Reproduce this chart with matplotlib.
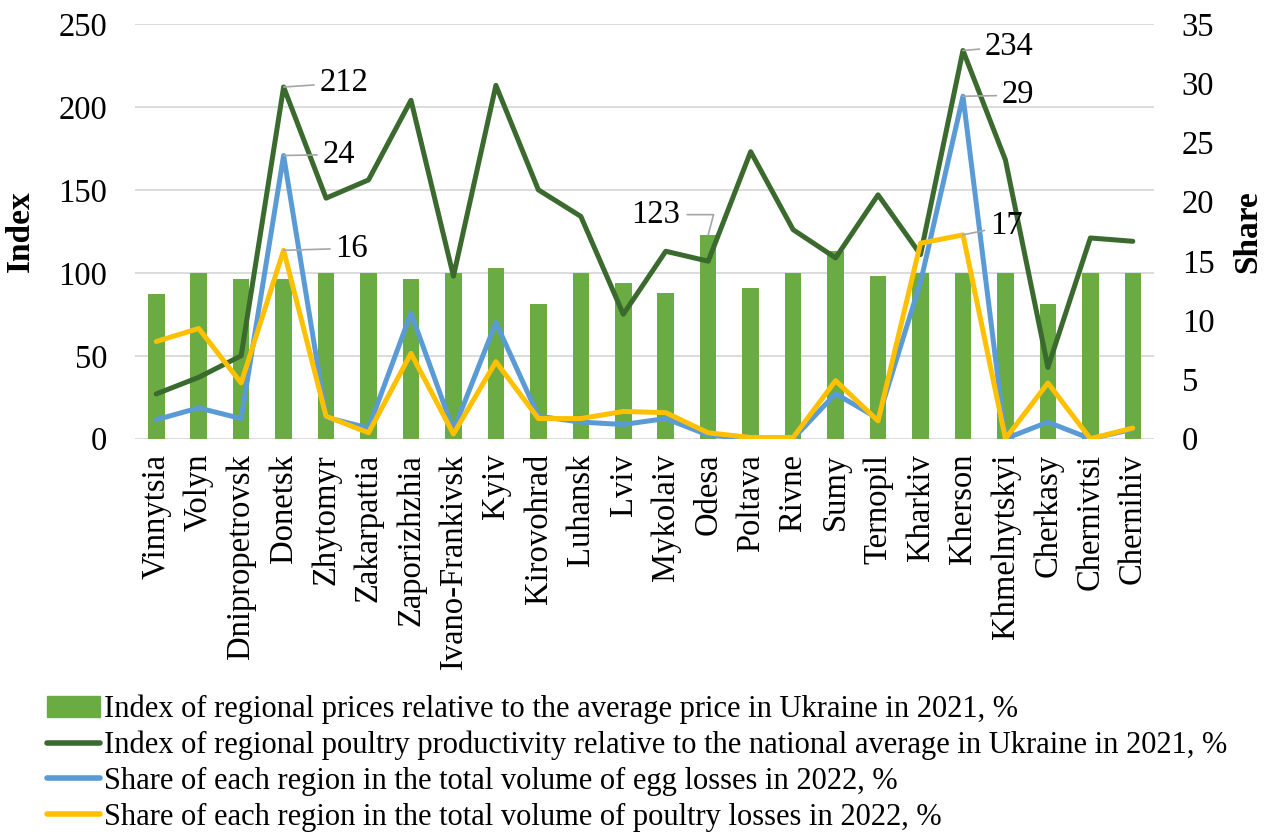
import matplotlib
matplotlib.use("Agg")
import matplotlib.pyplot as plt
import numpy as np
from matplotlib.patches import Patch
from matplotlib.lines import Line2D

plt.rcParams['font.family'] = ['Liberation Serif', 'DejaVu Serif']

regions = ["Vinnytsia", "Volyn", "Dnipropetrovsk", "Donetsk", "Zhytomyr", "Zakarpattia",
           "Zaporizhzhia", "Ivano-Frankivsk", "Kyiv", "Kirovohrad", "Luhansk", "Lviv",
           "Mykolaiv", "Odesa", "Poltava", "Rivne", "Sumy", "Ternopil", "Kharkiv",
           "Kherson", "Khmelnytskyi", "Cherkasy", "Chernivtsi", "Chernihiv"]

# left axis (index, %)
price_index = [87, 100, 96, 96, 100, 100, 96, 100, 103, 81, 100, 94, 88, 123, 91, 100,
               113, 98, 100, 100, 100, 81, 100, 100]
productivity = [27, 37, 50, 212, 145, 156, 204, 98, 213, 150, 134, 75, 113, 107, 173, 126,
                109, 147, 111, 234, 168, 43, 121, 119]
# right axis (share, %)
egg_losses = [1.6, 2.6, 1.7, 23.9, 1.8, 0.9, 10.6, 0.7, 9.8, 1.9, 1.4, 1.2, 1.7, 0.3, 0.0, 0.0,
              3.8, 1.7, 13.2, 28.9, 0.0, 1.4, 0.0, 0.8]
poultry_losses = [8.2, 9.3, 4.7, 15.9, 1.9, 0.5, 7.2, 0.4, 6.5, 1.7, 1.7, 2.3, 2.2, 0.5, 0.1, 0.1,
                  4.9, 1.5, 16.5, 17.2, 0.0, 4.7, 0.0, 0.9]

legend_labels = [
    "Index of regional prices relative to the average price in Ukraine in 2021, %",
    "Index of regional poultry productivity relative to the national average in Ukraine in 2021, %",
    "Share of each region in the total volume of egg losses in 2022, %",
    "Share of each region in the total volume of poultry losses in 2022, %",
]

c_bar = "#6AAB43"
c_prod = "#3A6A2D"
c_egg = "#5B9BD5"
c_poultry = "#FFC000"
grid_c = "#D9D9D9"
fs = 23.5

x = np.arange(len(regions))

fig = plt.figure(figsize=(12.7, 8.35), dpi=100)
ax = fig.add_axes([0.1063, 0.4746, 0.8024, 0.4967])
ax2 = ax.twinx()

ax.set_ylim(0, 250)
ax2.set_ylim(0, 35)
ax.set_xlim(-0.5, len(regions) - 0.5)
ax.set_yticks(np.arange(0, 251, 50))
ax2.set_yticks(np.arange(0, 36, 5))

ax.set_axisbelow(True)
ax.yaxis.grid(True, color=grid_c, lw=1.3)
for a in (ax, ax2):
    for s in a.spines.values():
        s.set_visible(False)
    a.tick_params(length=0, labelsize=fs)

ax.bar(x, price_index, width=0.39, color=c_bar, zorder=2)
ax.plot(x, productivity, color=c_prod, lw=3.6, zorder=3, solid_capstyle='round')
ax2.plot(x, egg_losses, color=c_egg, lw=3.6, zorder=3, solid_capstyle='round')
ax2.plot(x, poultry_losses, color=c_poultry, lw=3.6, zorder=4, solid_capstyle='round')

ax.set_xticks(x)
ax.set_xticklabels(regions, rotation=90, fontsize=fs)
ax.tick_params(axis='x', pad=11)
ax.tick_params(axis='y', pad=20)
ax2.tick_params(axis='y', pad=20)

ax.set_ylabel("Index", fontsize=24, fontweight='bold', labelpad=16)
ax2.set_ylabel("Share", fontsize=24, fontweight='bold', labelpad=13)

# data labels with leader lines
lead = dict(arrowstyle='-', color='#A6A6A6', lw=1.2, shrinkA=2, shrinkB=0)
def label(axis, i, val, dx, dy):
    axis.annotate(f"{val:.0f}", xy=(i, val), xytext=(dx, dy), textcoords='offset pixels',
                  ha='left', va='center', fontsize=fs, arrowprops=lead, zorder=6)

label(ax, 3, productivity[3], 36, 4)
label(ax2, 3, egg_losses[3], 39, 1)
label(ax2, 3, poultry_losses[3], 52, 2)
label(ax, 19, productivity[19], 22, 4)
label(ax2, 19, egg_losses[19], 39, 1)
label(ax2, 19, poultry_losses[19], 27, 9)
ax.annotate(f"{price_index[13]:.0f}", xy=(13, price_index[13]), xytext=(-28, 20),
            textcoords='offset pixels', ha='right', va='center', fontsize=fs,
            arrowprops=dict(arrowstyle='-', color='#A6A6A6', lw=1.2, shrinkA=3, shrinkB=0,
                            connectionstyle='angle,angleA=0,angleB=75,rad=0'), zorder=6)

handles = [Patch(color=c_bar),
           Line2D([], [], color=c_prod, lw=4, solid_capstyle='round'),
           Line2D([], [], color=c_egg, lw=4, solid_capstyle='round'),
           Line2D([], [], color=c_poultry, lw=4, solid_capstyle='round')]
fig.legend(handles, legend_labels, loc='upper left', bbox_to_anchor=(0.037, 0.168),
           frameon=False, fontsize=22, handlelength=1.75, handletextpad=0.1,
           labelspacing=0.22, borderaxespad=0, borderpad=0)

fig.savefig("out.png", dpi=100)
